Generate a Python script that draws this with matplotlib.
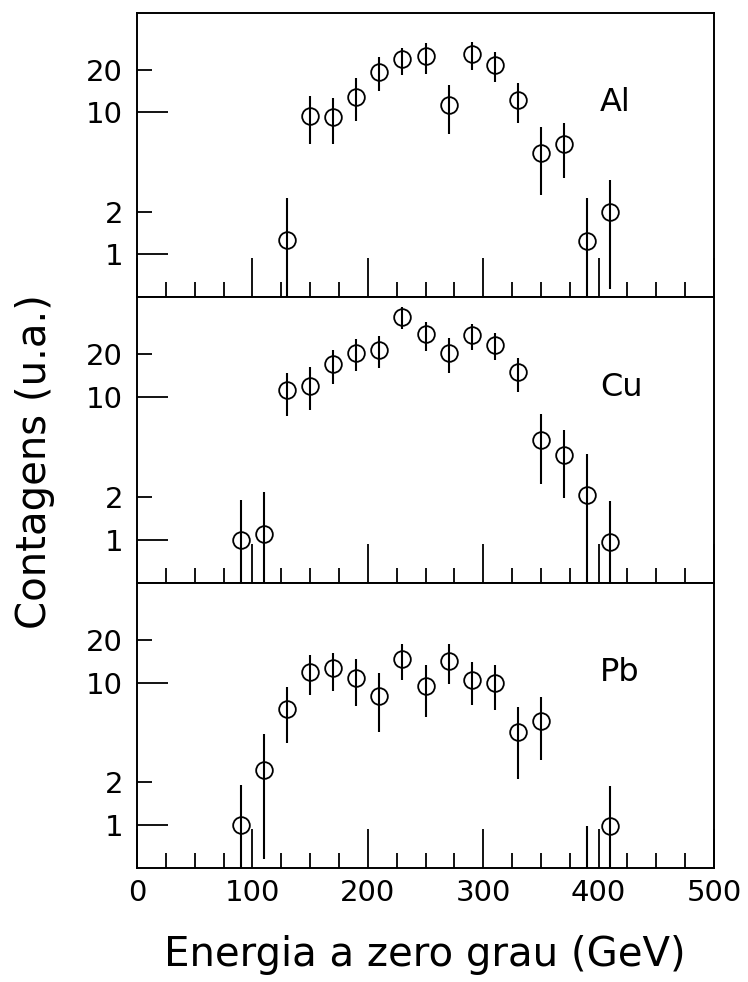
# Espectros de energia a zero grau para Al, Cu e Pb (3 paineis, escala log)
import numpy as np
import matplotlib
matplotlib.use('Agg')
import matplotlib.pyplot as plt
from matplotlib.ticker import FixedLocator, FixedFormatter, NullFormatter

plt.rcParams['font.family'] = ['DejaVu Sans']

# energia (GeV) dos pontos
x_al = [130, 150, 170, 190, 210, 230, 250, 270, 290, 310, 330, 350, 370, 390, 410]
y_al = [1.26, 9.4, 9.3, 12.9, 19.3, 23.6, 24.7, 11.2, 25.6, 21.5, 12.2, 5.2, 5.95, 1.24, 1.99]
lo_al = [0.3, 5.95, 5.95, 8.7, 14.1, 18.2, 18.5, 7.0, 19.9, 16.4, 8.46, 2.6, 3.47, 0.3, 0.57]
hi_al = [2.48, 13.0, 12.5, 17.3, 24.3, 28.5, 30.5, 15.5, 31.0, 26.6, 16.0, 7.9, 8.46, 2.48, 3.32]

x_cu = [90, 110, 130, 150, 170, 190, 210, 230, 250, 270, 290, 310, 330, 350, 370, 390, 410]
y_cu = [1.0, 1.1, 11.1, 12.0, 16.9, 20.2, 21.2, 36.0, 27.5, 20.2, 27.2, 23.0, 14.9, 5.03, 3.93, 2.07, 0.97]
lo_cu = [0.3, 0.3, 7.4, 8.1, 12.4, 15.1, 15.9, 29.8, 21.0, 14.8, 21.2, 18.1, 10.8, 2.47, 1.96, 0.3, 0.3]
hi_cu = [1.91, 2.18, 14.6, 16.3, 21.2, 25.3, 26.7, 42.3, 33.5, 25.7, 32.3, 28.2, 18.8, 7.6, 5.9, 4.0, 1.88]

x_pb = [90, 110, 130, 150, 170, 190, 210, 230, 250, 270, 290, 310, 330, 350, 390, 410]
y_pb = [1.0, 2.43, 6.5, 11.9, 12.6, 10.8, 8.1, 14.6, 9.5, 14.2, 10.4, 9.9, 4.47, 5.4, 0.3, 0.98]
lo_pb = [0.3, 0.58, 3.76, 8.2, 8.8, 6.9, 4.5, 10.5, 5.7, 9.8, 7.0, 6.4, 2.1, 2.87, 0.2, 0.3]
hi_pb = [1.91, 4.35, 9.25, 15.6, 16.1, 14.6, 11.7, 18.6, 13.3, 18.6, 13.9, 13.3, 6.7, 7.95, 0.98, 1.87]

paineis = [
    ('Al', x_al, y_al, lo_al, hi_al),
    ('Cu', x_cu, y_cu, lo_cu, hi_cu),
    ('Pb', x_pb, y_pb, lo_pb, hi_pb),
]

W, H = 748, 982
fig = plt.figure(figsize=(W / 100, H / 100), dpi=100)

left, right = 137, 714
limites = [(13, 297), (297, 583), (583, 868)]

for i, ((nome, x, y, lo, hi), (top, bot)) in enumerate(zip(paineis, limites)):
    ax = fig.add_axes([left / W, 1 - bot / H, (right - left) / W, (bot - top) / H])
    y = np.array(y)
    yerr = [y - np.array(lo), np.array(hi) - y]
    ax.errorbar(x, y, yerr=yerr, fmt='o', mfc='none', mec='k', ecolor='k',
                color='k', ms=12, mew=1.3, elinewidth=1.5, capsize=0)
    ax.set_yscale('log')
    ax.set_ylim(0.5, 50)
    ax.set_xlim(0, 500)

    # eixo y: 1 e 10 longos, 2 e 20 curtos
    ax.yaxis.set_major_locator(FixedLocator([1, 10]))
    ax.yaxis.set_minor_locator(FixedLocator([2, 20]))
    ax.yaxis.set_major_formatter(FixedFormatter(['1', '10']))
    ax.yaxis.set_minor_formatter(FixedFormatter(['2', '20']))
    ax.tick_params(axis='y', which='major', direction='in', length=22, width=1.3,
                   labelsize=21, pad=10, right=False)
    ax.tick_params(axis='y', which='minor', direction='in', length=11, width=1.3,
                   labelsize=21, pad=10, right=False)

    # eixo x: 100 longos, 25 curtos
    ax.xaxis.set_major_locator(FixedLocator([0, 100, 200, 300, 400, 500]))
    ax.xaxis.set_minor_locator(FixedLocator(np.arange(25, 500, 25)))
    ax.xaxis.set_minor_formatter(NullFormatter())
    ax.tick_params(axis='x', which='major', direction='in', length=28, width=1.3,
                   labelsize=21, pad=8, top=False)
    ax.tick_params(axis='x', which='minor', direction='in', length=11, width=1.3, top=False)
    if i < 2:
        ax.tick_params(axis='x', which='both', labelbottom=False)

    for s in ax.spines.values():
        s.set_linewidth(1.4)

    ax.text(0.802, 0.685, nome, transform=ax.transAxes, fontsize=23,
            ha='left', va='center')

fig.text(425 / W, 1 - 955 / H, 'Energia a zero grau (GeV)', fontsize=29,
         ha='center', va='center')
fig.text(35 / W, 1 - 462 / H, 'Contagens (u.a.)', fontsize=29,
         ha='center', va='center', rotation=90)

plt.savefig('out.png', dpi=100)
